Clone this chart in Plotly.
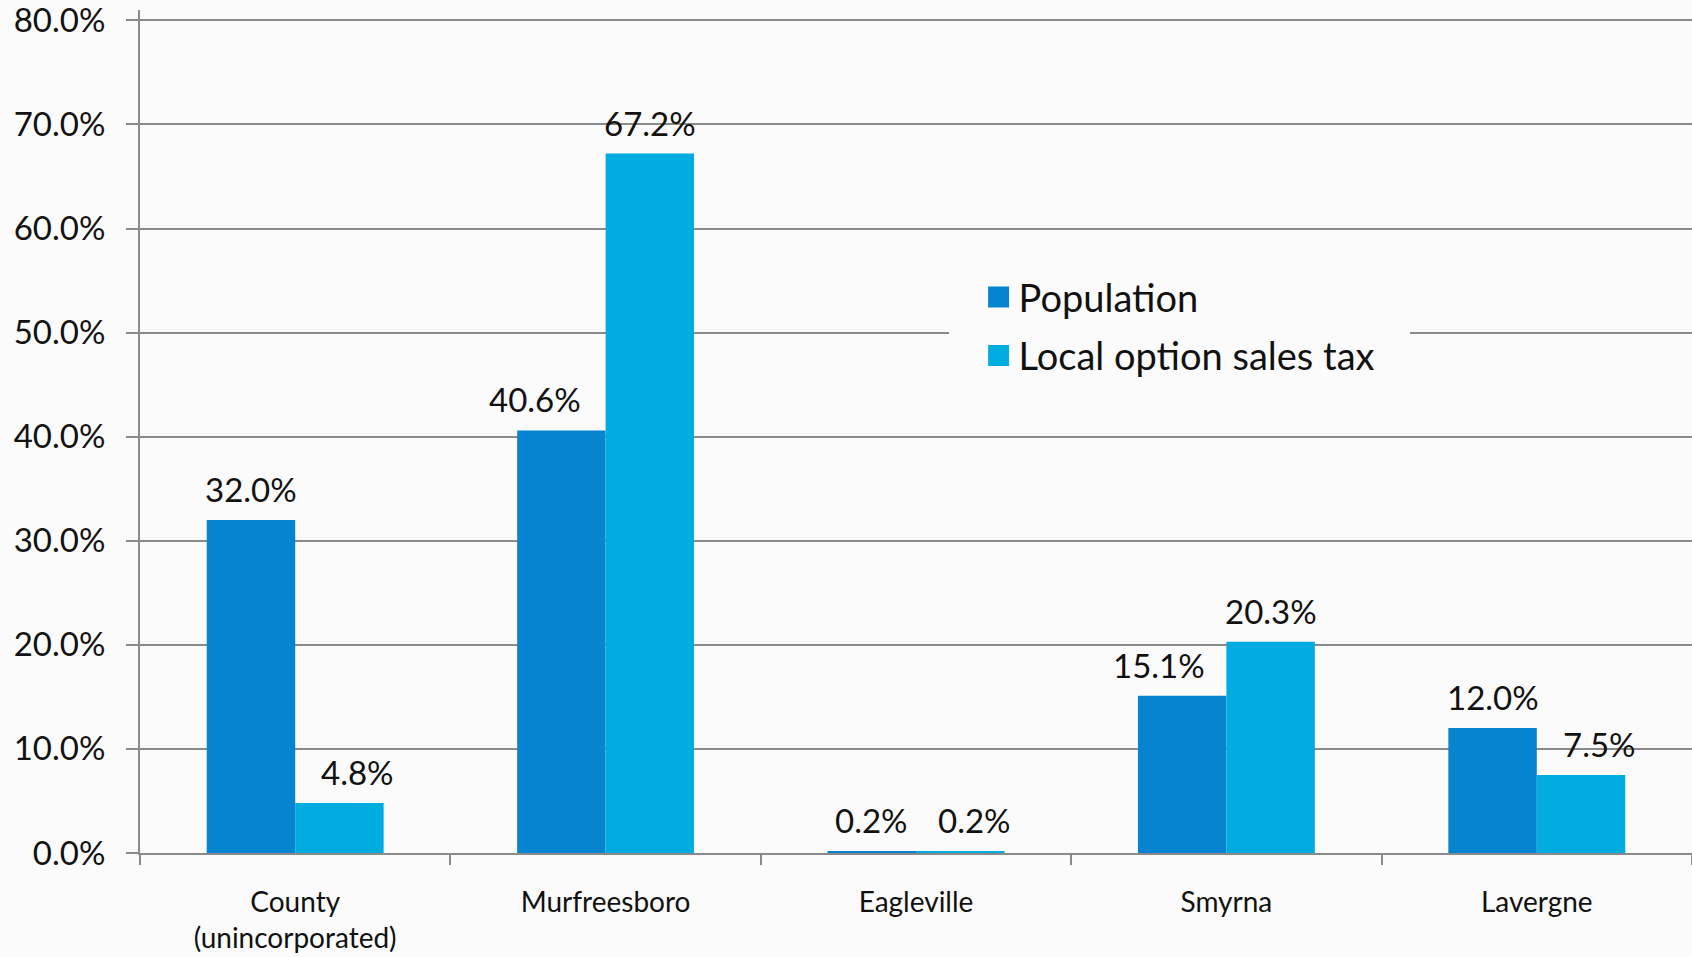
import plotly.graph_objects as go

categories = ["County<br>(unincorporated)", "Murfreesboro", "Eagleville", "Smyrna", "Lavergne"]
population = [32.0, 40.6, 0.2, 15.1, 12.0]
sales_tax = [4.8, 67.2, 0.2, 20.3, 7.5]
series_names = ["Population", "Local option sales tax"]

# label nudges (pixels) to mimic hand-placed labels in the original
pop_label_dx = [0, -26, 0, -23, 0]
tax_label_dx = [18, 0, 14, 0, 18]

COL_POP = "#0784D0"
COL_TAX = "#01ADE0"
GRID = "#8a8a8a"
FONT = "Lato"
BG = "#fbfbfb"
BARGAP = 0.43
YMAX = 81

fig = go.Figure()
fig.add_trace(go.Bar(x=categories, y=population, name=series_names[0],
                     marker=dict(color=COL_POP, line=dict(width=0)), showlegend=False))
fig.add_trace(go.Bar(x=categories, y=sales_tax, name=series_names[1],
                     marker=dict(color=COL_TAX, line=dict(width=0)), showlegend=False))

# legend entries with larger square swatches
for name, col, grp in [(series_names[0], COL_POP, "a"), (series_names[1], COL_TAX, "b")]:
    fig.add_trace(go.Scatter(x=[None], y=[None], mode="markers", name=name, legendgroup=grp,
                             marker=dict(symbol="square", size=16, color=col,
                                         line=dict(color=col, width=5))))

half = (1 - BARGAP) / 4
annotations = []
for i, (p, t) in enumerate(zip(population, sales_tax)):
    annotations.append(dict(x=i - half, y=p, xref="x", yref="y", text=f"{p:.1f}%",
                            showarrow=False, yanchor="middle", yshift=31, xshift=pop_label_dx[i],
                            font=dict(family=FONT, size=33, color="#111")))
    annotations.append(dict(x=i + half, y=t, xref="x", yref="y", text=f"{t:.1f}%",
                            showarrow=False, yanchor="middle", yshift=31, xshift=tax_label_dx[i],
                            font=dict(family=FONT, size=33, color="#111")))

fig.update_layout(
    width=1692, height=957,
    margin=dict(l=140, r=0, t=10, b=104),
    paper_bgcolor=BG, plot_bgcolor=BG,
    barmode="group", bargap=BARGAP, bargroupgap=0,
    font=dict(family=FONT, color="#111"),
    annotations=annotations,
    legend=dict(x=0.521, y=0.732, xanchor="left", yanchor="top",
                bgcolor=BG, bordercolor=BG, borderwidth=30,
                font=dict(family=FONT, size=38, color="#111"),
                tracegroupgap=6, itemsizing="trace"),
    xaxis=dict(type="category", showline=True, linecolor=GRID, linewidth=2,
               ticks="outside", tickson="boundaries", ticklen=10, tickcolor=GRID, tickwidth=2,
               tickfont=dict(family=FONT, size=28, color="#111"), ticklabelstandoff=23,
               showgrid=False, range=[-0.5, 4.5], automargin=False),
    yaxis=dict(range=[0, YMAX], dtick=10, tickformat=".1f", ticksuffix="%",
               showline=True, linecolor=GRID, linewidth=2,
               showgrid=True, gridcolor=GRID, gridwidth=2, zeroline=False,
               ticks="outside", ticklen=12, tickcolor=GRID, tickwidth=2,
               tickfont=dict(family=FONT, size=33, color="#111"), ticklabelstandoff=14,
               ticklabeloverflow="allow", automargin=False),
)

fig.write_html("out.html")
